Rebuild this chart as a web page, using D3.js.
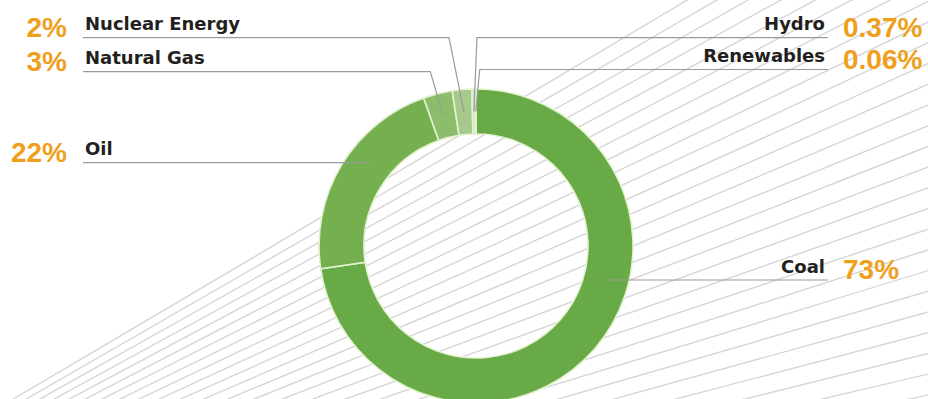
<!DOCTYPE html>
<html>
<head>
<meta charset="utf-8">
<script src="https://cdn.jsdelivr.net/npm/d3@7"></script>
<style>
  html, body { margin: 0; padding: 0; background: #ffffff; }
  svg { display: block; }
</style>
</head>
<body>
<svg id="chart" width="928" height="399"></svg>
<script>
// Energy mix shares (percent)
const categories  = ["Coal", "Oil", "Natural Gas", "Nuclear Energy", "Hydro", "Renewables"];
const shares      = [73, 22, 3, 2, 0.37, 0.06];
const shareLabels = ["73%", "22%", "3%", "2%", "0.37%", "0.06%"];
const sliceColors = ["#68aa45", "#74b050", "#8dbd6b", "#a6ca8b", "#cde2bb", "#eef6e6"];

// Label placement: side of the chart, height of the leader rule, elbow offset
const labelSide   = ["right", "left", "left", "left", "right", "right"];
const labelLineY  = [280, 162.7, 71.7, 37.7, 37.7, 69.5];
const elbowOffset = [null, null, -13, -15, 3, 4];

const W = 928, H = 399;
const cx = 476, cy = 246, rInner = 112, rOuter = 157;
const rMid = (rInner + rOuter) / 2;

const svg = d3.select("#chart");

// Decorative fan of thin grey lines spreading from the lower left
const bg = svg.append("g").attr("fill", "none").attr("stroke", "#d6d6d6")
  .attr("stroke-width", 1.4).attr("stroke-linecap", "round");
const focus = [-500, 700];
for (let k = 0.20; k <= 0.596; k += 0.0145) {
  const len = 1600;
  const x2 = focus[0] + len, y2 = focus[1] - k * len;
  const x1 = focus[0] + len * 0.5, y1 = focus[1] - k * len * 0.5 + 6;
  bg.append("path").attr("d", `M${focus[0]},${focus[1]} Q${x1},${y1} ${x2},${y2}`);
}

// Donut
const data = categories.map((c, i) => ({ name: c, value: shares[i], color: sliceColors[i], i }));
const pie = d3.pie().sort(null).value(d => d.value).startAngle(0).endAngle(2 * Math.PI);
const arc = d3.arc().innerRadius(rInner).outerRadius(rOuter);
const arcs = pie(data);

const g = svg.append("g").attr("transform", `translate(${cx},${cy})`);
g.selectAll("path.slice").data(arcs).join("path")
  .attr("class", "slice")
  .attr("d", arc)
  .attr("fill", d => d.data.color)
  .attr("stroke", "#e4f2d2")
  .attr("stroke-width", 1.6);

// Leader rules and labels
const leftRuleX = 83, rightRuleX = 828;
const leaders = svg.append("g").attr("fill", "none").attr("stroke", "#9a9a9a").attr("stroke-width", 1.2);
const labels = svg.append("g");

arcs.forEach((a, i) => {
  const side = labelSide[i];
  const ly = labelLineY[i];
  let pts;
  if (elbowOffset[i] === null) {
    // horizontal rule ending on the ring's mid circle at this height
    const dy = ly - cy;
    const dx = Math.sqrt(rMid * rMid - dy * dy);
    const ex = side === "left" ? cx - dx : cx + dx;
    pts = side === "left" ? [[leftRuleX, ly], [ex, ly]] : [[ex, ly], [rightRuleX, ly]];
  } else {
    const c = arc.centroid(a);
    const ex = cx + c[0], ey = cy + c[1];
    const bx = ex + elbowOffset[i];
    pts = side === "left"
      ? [[leftRuleX, ly], [bx, ly], [ex, ey]]
      : [[rightRuleX, ly], [bx, ly], [ex, ey]];
  }
  leaders.append("path").attr("d", d3.line()(pts));

  const nameX = side === "left" ? 85 : 825;
  const pctX  = side === "left" ? 67 : 843;
  labels.append("text")
    .attr("x", nameX).attr("y", ly - 7.5)
    .attr("text-anchor", side === "left" ? "start" : "end")
    .attr("font-family", "'DejaVu Sans', sans-serif")
    .attr("font-weight", "bold").attr("font-size", 18)
    .attr("fill", "#231f20")
    .text(a.data.name);
  labels.append("text")
    .attr("x", pctX).attr("y", ly - 1)
    .attr("text-anchor", side === "left" ? "end" : "start")
    .attr("font-family", "'Liberation Sans', Arial, sans-serif")
    .attr("font-weight", "bold").attr("font-size", 28)
    .attr("fill", "#ef9f1c")
    .text(shareLabels[i]);
});
</script>
</body>
</html>
